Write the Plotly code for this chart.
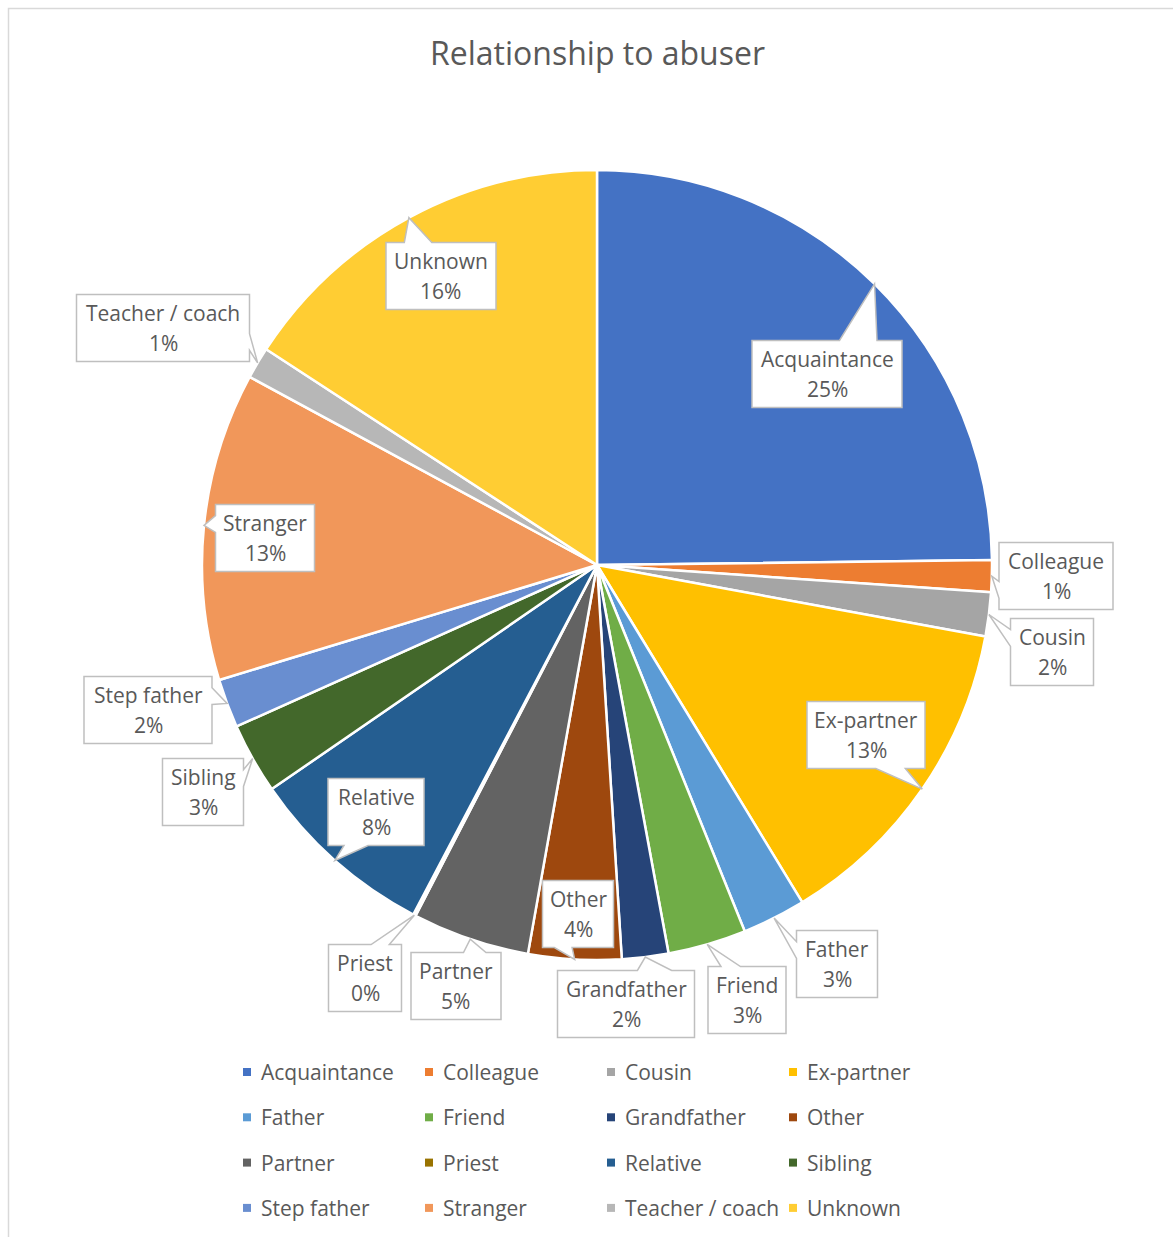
import math
import plotly.graph_objects as go

# --- data -------------------------------------------------------------
categories = ["Acquaintance", "Colleague", "Cousin", "Ex-partner",
              "Father", "Friend", "Grandfather", "Other",
              "Partner", "Priest", "Relative", "Sibling",
              "Step father", "Stranger", "Teacher / coach", "Unknown"]
shares = [24.8, 1.3, 1.8, 13.4,
          2.6, 3.2, 1.9, 3.8,
          4.8, 0.1, 7.7, 2.9,
          2.0, 12.6, 1.3, 15.8]
colors = ["#4472C4", "#ED7D31", "#A5A5A5", "#FFC000",
          "#5B9BD5", "#70AD47", "#264478", "#9E480E",
          "#636363", "#997300", "#255E91", "#43682B",
          "#698ED0", "#F1975A", "#B7B7B7", "#FFCD33"]
title_text = "Relationship to abuser"

# --- layout (pixels) --------------------------------------------------
W, H = 1173, 1237
CX, CY, R = 597, 565, 395          # pie centre and radius
BOX_H = 67
# callout boxes: centre x, centre y, width
label_boxes = [(827, 374, 150), (1056, 576, 114), (1052, 652, 83), (866, 735, 118),
               (837, 964, 81), (747, 1000, 78), (626, 1004, 137), (578, 914, 71),
               (456, 986, 90), (365, 978, 73), (376, 812, 96), (203, 792, 81),
               (148, 710, 128), (265, 538, 99), (163, 328, 173), (441, 276, 110)]
FONT = "Open Sans, Noto Sans, sans-serif"
TXT = "#595959"


def px(x):
    return x / W


def py(y):
    return 1 - y / H


def callout_path(bx, by, w, h, tx, ty):
    """Rectangle callout with a wedge pointing at (tx, ty)."""
    l, t, r, b = bx - w / 2, by - h / 2, bx + w / 2, by + h / 2
    dx, dy = tx - bx, ty - by
    dq = dx * h / w
    dz = abs(dy) - abs(dq)
    xg1, xg2 = (7, 10) if dx > 0 else (2, 5)
    yg1, yg2 = (7, 10) if dy > 0 else (2, 5)
    x1, x2 = l + w * xg1 / 12, l + w * xg2 / 12
    y1, y2 = t + h * yg1 / 12, t + h * yg2 / 12
    pts = [(l, t)]
    if dz > 0 and dy < 0:
        pts += [(x1, t), (tx, ty), (x2, t)]
    pts.append((r, t))
    if dz < 0 and dx > 0:
        pts += [(r, y1), (tx, ty), (r, y2)]
    pts.append((r, b))
    if dz > 0 and dy > 0:
        pts += [(x2, b), (tx, ty), (x1, b)]
    pts.append((l, b))
    if dz < 0 and dx < 0:
        pts += [(l, y2), (tx, ty), (l, y1)]
    d = "M " + " L ".join(f"{px(a):.5f},{py(c):.5f}" for a, c in pts) + " Z"
    return d


fig = go.Figure()
fig.add_trace(go.Pie(
    labels=categories, values=shares, sort=False, direction="clockwise",
    rotation=0, marker=dict(colors=colors, line=dict(color="white", width=2.5)),
    textinfo="none", hoverinfo="label+percent", showlegend=False,
    domain=dict(x=[px(CX - R), px(CX + R)], y=[py(CY + R), py(CY - R)]),
))

shapes = []
annotations = []
total = sum(shares)
cum = 0.0
for name, v, (bx, by, bw) in zip(categories, shares, label_boxes):
    mid = (cum + v / 2) / total * 2 * math.pi
    cum += v
    tx = CX + R * math.sin(mid)
    ty = CY - R * math.cos(mid)
    shapes.append(dict(type="path", xref="paper", yref="paper", layer="above",
                       path=callout_path(bx, by, bw, BOX_H, tx, ty),
                       fillcolor="white", line=dict(color="#BFBFBF", width=1.5)))
    pct = f"{round(v / total * 100)}%"
    for txt, off in ((name, -15), (pct, 15)):
        annotations.append(dict(x=px(bx), y=py(by + off), xref="paper", yref="paper",
                                text=txt, showarrow=False, xanchor="center", yanchor="middle",
                                font=dict(family=FONT, size=21, color=TXT)))

# legend: 4 columns x 4 rows
LEG_X0, LEG_DX = 243, 182
LEG_Y0, LEG_DY = 1072, 45.3
for i, (name, c) in enumerate(zip(categories, colors)):
    col, row = i % 4, i // 4
    mx = LEG_X0 + col * LEG_DX
    my = LEG_Y0 + row * LEG_DY
    shapes.append(dict(type="rect", xref="paper", yref="paper", layer="above",
                       x0=px(mx), x1=px(mx + 8), y0=py(my + 4), y1=py(my - 4),
                       fillcolor=c, line=dict(width=0)))
    annotations.append(dict(x=px(mx + 16), y=py(my), xref="paper", yref="paper",
                            text=name, showarrow=False, xanchor="left", yanchor="middle",
                            font=dict(family=FONT, size=21, color=TXT)))

# chart area border
shapes.append(dict(type="path", xref="paper", yref="paper", layer="above",
                   path=f"M {px(8.5)},{py(H + 50)} L {px(8.5)},{py(8.5)} L {px(W + 5)},{py(8.5)}",
                   line=dict(color="#D9D9D9", width=1.5)))

annotations.append(dict(x=px(597), y=py(53), xref="paper", yref="paper", text=title_text,
                        showarrow=False, xanchor="center", yanchor="middle",
                        font=dict(family=FONT, size=32, color=TXT)))

fig.update_layout(width=W, height=H, margin=dict(l=0, r=0, t=0, b=0),
                  paper_bgcolor="white", plot_bgcolor="white",
                  shapes=shapes, annotations=annotations, showlegend=False)
fig.write_html("out.html")
